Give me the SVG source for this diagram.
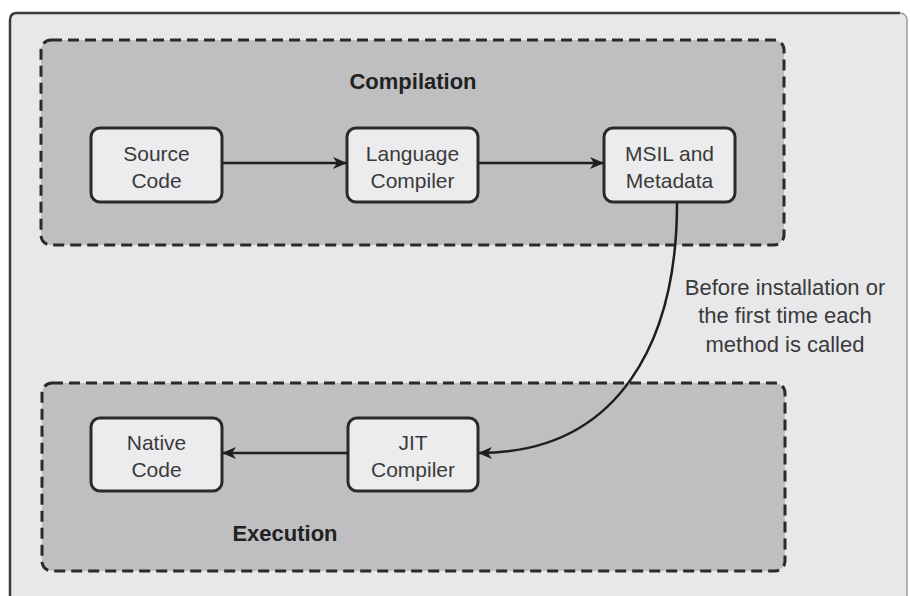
<svg xmlns="http://www.w3.org/2000/svg" width="910" height="596" viewBox="0 0 910 596">
<defs>
<style>
.node rect{fill:#ececee;stroke:#2a2a2a;stroke-width:3}
.node text{font-family:"Liberation Sans",Arial,sans-serif;font-size:21px;fill:#3a3a3a;text-anchor:middle}
.group{fill:#bfbfc1;stroke:#2a2a2a;stroke-width:3;stroke-dasharray:11 6}
.title{font-family:"Liberation Sans",Arial,sans-serif;font-size:22px;font-weight:bold;fill:#222;text-anchor:middle}
.conn{fill:none;stroke:#1e1e1e;stroke-width:2.5}
.label{font-family:"Liberation Sans",Arial,sans-serif;font-size:22px;fill:#3a3a3a;text-anchor:middle}
</style>
<marker id="arr" markerWidth="14" markerHeight="12" refX="13" refY="6" orient="auto" markerUnits="userSpaceOnUse">
<path d="M0,0 L14,6 L0,12 L4,6 z" fill="#1e1e1e"/>
</marker>
</defs>
<rect x="0" y="0" width="910" height="596" fill="#ffffff"/>
<rect x="10" y="13" width="897" height="600" rx="7" fill="#e8e8ea" stroke="#9a9a9a" stroke-width="1.5"/>
<path d="M10,600 L10,20 Q10,13 17,13 L900,13" fill="none" stroke="#3a3a3a" stroke-width="2.5"/>

<g id="compilation">
<rect class="group" x="41" y="40" width="743" height="205" rx="10"/>
<text class="title" x="413" y="89">Compilation</text>
</g>
<g id="execution">
<rect class="group" x="42" y="383" width="743" height="188" rx="10"/>
<text class="title" x="285" y="541">Execution</text>
</g>

<g id="source-code" class="node">
<rect x="91" y="128" width="131" height="74" rx="9"/>
<text x="156.5" y="161">Source</text>
<text x="156.5" y="188">Code</text>
</g>
<g id="language-compiler" class="node">
<rect x="347" y="128" width="131" height="74" rx="9"/>
<text x="412.5" y="161">Language</text>
<text x="412.5" y="188">Compiler</text>
</g>
<g id="msil" class="node">
<rect x="604" y="128" width="131" height="74" rx="9"/>
<text x="669.5" y="161">MSIL and</text>
<text x="669.5" y="188">Metadata</text>
</g>
<g id="native-code" class="node">
<rect x="91" y="418" width="131" height="73" rx="9"/>
<text x="156.5" y="450">Native</text>
<text x="156.5" y="477">Code</text>
</g>
<g id="jit-compiler" class="node">
<rect x="348" y="418" width="130" height="73" rx="9"/>
<text x="413" y="450">JIT</text>
<text x="413" y="477">Compiler</text>
</g>

<g id="connectors">
<line class="conn" x1="223" y1="163" x2="346" y2="163" marker-end="url(#arr)"/>
<line class="conn" x1="479" y1="163" x2="603" y2="163" marker-end="url(#arr)"/>
<line class="conn" x1="347" y1="453" x2="223" y2="453" marker-end="url(#arr)"/>
<path class="conn" d="M677,203 C677,340 620,453 479,453" marker-end="url(#arr)"/>
</g>
<g id="edge-label">
<text class="label" x="785" y="295">Before installation or</text>
<text class="label" x="785" y="323">the first time each</text>
<text class="label" x="785" y="352">method is called</text>
</g>
</svg>
